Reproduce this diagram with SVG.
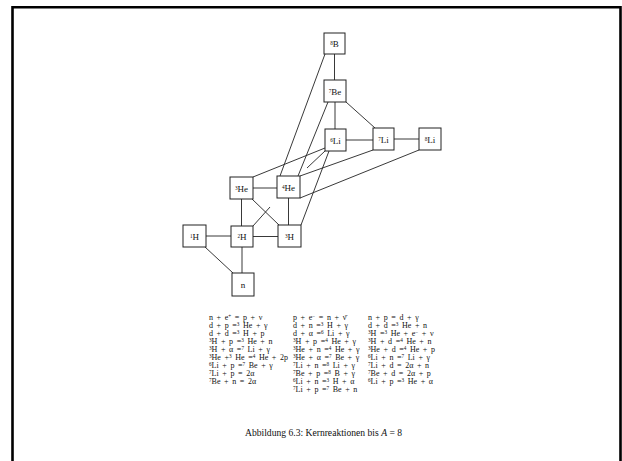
<svg xmlns="http://www.w3.org/2000/svg" width="622" height="461" viewBox="0 0 622 461">
<style>
.frame{fill:none;stroke:#000;stroke-width:2.6}
.box{fill:#fff;stroke:#222;stroke-width:1}
.ln{stroke:#222;stroke-width:0.9;fill:none}
.lbl{font-family:"Liberation Serif","DejaVu Serif",serif;font-size:9px;fill:#111;text-anchor:middle}
.eq{font-family:"Liberation Serif","DejaVu Serif",serif;font-size:8px;fill:#111;word-spacing:1.6px}
.s{font-size:5.2px;baseline-shift:2.5px;fill:#111}
.cap{font-family:"Liberation Serif","DejaVu Serif",serif;font-size:9.6px;fill:#111}
</style>
<rect width="622" height="461" fill="#fff"/>
<path class="frame" d="M12.5,461 V7.3 H620.5 V461"/>
<g id="connectors">
<line class="ln" x1="206" y1="236" x2="231" y2="236"/>
<line class="ln" x1="205" y1="247" x2="233" y2="273"/>
<line class="ln" x1="242" y1="247" x2="242" y2="273"/>
<line class="ln" x1="253" y1="236.5" x2="278" y2="236.5"/>
<line class="ln" x1="241.5" y1="199" x2="241.5" y2="226"/>
<line class="ln" x1="253" y1="188" x2="277" y2="188"/>
<line class="ln" x1="252" y1="199" x2="279" y2="225"/>
<line class="ln" x1="253" y1="226" x2="270" y2="207"/>
<line class="ln" x1="288.5" y1="198" x2="288.5" y2="225"/>
<line class="ln" x1="301" y1="225" x2="329" y2="151"/>
<line class="ln" x1="280" y1="176" x2="325" y2="54"/>
<line class="ln" x1="298" y1="176" x2="328" y2="102"/>
<line class="ln" x1="253" y1="177" x2="325" y2="148"/>
<line class="ln" x1="307" y1="168" x2="325" y2="151"/>
<line class="ln" x1="300" y1="176" x2="373" y2="150"/>
<line class="ln" x1="300" y1="198" x2="419" y2="150"/>
<line class="ln" x1="334.5" y1="54" x2="334.5" y2="80"/>
<line class="ln" x1="335" y1="102" x2="335" y2="129"/>
<line class="ln" x1="346" y1="102" x2="375" y2="128"/>
<line class="ln" x1="346" y1="140" x2="373" y2="140"/>
<line class="ln" x1="394" y1="139" x2="419" y2="139"/>
</g>
<g id="n8B"><rect class="box" x="324" y="33" width="21" height="21"/><text class="lbl" x="334.5" y="47"><tspan class="s">8</tspan>B</text></g>
<g id="n7Be"><rect class="box" x="324" y="80" width="22" height="22"/><text class="lbl" x="335" y="94.5"><tspan class="s">7</tspan>Be</text></g>
<g id="n6Li"><rect class="box" x="325" y="129" width="21" height="22"/><text class="lbl" x="335.5" y="143.5"><tspan class="s">6</tspan>Li</text></g>
<g id="n7Li"><rect class="box" x="373" y="128" width="21" height="22"/><text class="lbl" x="383.5" y="142.5"><tspan class="s">7</tspan>Li</text></g>
<g id="n8Li"><rect class="box" x="419" y="128" width="22" height="22"/><text class="lbl" x="430" y="142.5"><tspan class="s">8</tspan>Li</text></g>
<g id="n3He"><rect class="box" x="230" y="177" width="23" height="22"/><text class="lbl" x="241.5" y="191.5"><tspan class="s">3</tspan>He</text></g>
<g id="n4He"><rect class="box" x="277" y="176" width="23" height="22"/><text class="lbl" x="288.5" y="190.5"><tspan class="s">4</tspan>He</text></g>
<g id="n1H"><rect class="box" x="183" y="225" width="23" height="22"/><text class="lbl" x="194.5" y="239.5"><tspan class="s">1</tspan>H</text></g>
<g id="n2H"><rect class="box" x="231" y="226" width="22" height="21"/><text class="lbl" x="242" y="240"><tspan class="s">2</tspan>H</text></g>
<g id="n3H"><rect class="box" x="278" y="225" width="23" height="22"/><text class="lbl" x="289.5" y="239.5"><tspan class="s">3</tspan>H</text></g>
<g id="nn"><rect class="box" x="232" y="273" width="22" height="23"/><text class="lbl" x="243" y="288">n</text></g>
<g id="equations">
<text class="eq" x="209" y="320">n + e<tspan class="s">+</tspan> = p + ν</text>
<text class="eq" x="209" y="328">d + p =<tspan class="s">3</tspan> He + γ</text>
<text class="eq" x="209" y="336">d + d =<tspan class="s">3</tspan> H + p</text>
<text class="eq" x="209" y="344"><tspan class="s">3</tspan>H + p =<tspan class="s">3</tspan> He + n</text>
<text class="eq" x="209" y="352"><tspan class="s">3</tspan>H + α =<tspan class="s">7</tspan> Li + γ</text>
<text class="eq" x="209" y="360"><tspan class="s">3</tspan>He +<tspan class="s">3</tspan> He =<tspan class="s">4</tspan> He + 2p</text>
<text class="eq" x="209" y="368"><tspan class="s">6</tspan>Li + p =<tspan class="s">7</tspan> Be + γ</text>
<text class="eq" x="209" y="376"><tspan class="s">7</tspan>Li + p = 2α</text>
<text class="eq" x="209" y="384"><tspan class="s">7</tspan>Be + n = 2α</text>
<text class="eq" x="293" y="320">p + e<tspan class="s">−</tspan> = n + ν̄</text>
<text class="eq" x="293" y="328">d + n =<tspan class="s">3</tspan> H + γ</text>
<text class="eq" x="293" y="336">d + α =<tspan class="s">6</tspan> Li + γ</text>
<text class="eq" x="293" y="344"><tspan class="s">3</tspan>H + p =<tspan class="s">4</tspan> He + γ</text>
<text class="eq" x="293" y="352"><tspan class="s">3</tspan>He + n =<tspan class="s">4</tspan> He + γ</text>
<text class="eq" x="293" y="360"><tspan class="s">3</tspan>He + α =<tspan class="s">7</tspan> Be + γ</text>
<text class="eq" x="293" y="368"><tspan class="s">7</tspan>Li + n =<tspan class="s">8</tspan> Li + γ</text>
<text class="eq" x="293" y="376"><tspan class="s">7</tspan>Be + p =<tspan class="s">8</tspan> B + γ</text>
<text class="eq" x="293" y="384"><tspan class="s">6</tspan>Li + n =<tspan class="s">3</tspan> H + α</text>
<text class="eq" x="293" y="392"><tspan class="s">7</tspan>Li + p =<tspan class="s">7</tspan> Be + n</text>
<text class="eq" x="368" y="320">n + p = d + γ</text>
<text class="eq" x="368" y="328">d + d =<tspan class="s">3</tspan> He + n</text>
<text class="eq" x="368" y="336"><tspan class="s">3</tspan>H =<tspan class="s">3</tspan> He + e<tspan class="s">−</tspan> + ν</text>
<text class="eq" x="368" y="344"><tspan class="s">3</tspan>H + d =<tspan class="s">4</tspan> He + n</text>
<text class="eq" x="368" y="352"><tspan class="s">3</tspan>He + d =<tspan class="s">4</tspan> He + p</text>
<text class="eq" x="368" y="360"><tspan class="s">6</tspan>Li + n =<tspan class="s">7</tspan> Li + γ</text>
<text class="eq" x="368" y="368"><tspan class="s">7</tspan>Li + d = 2α + n</text>
<text class="eq" x="368" y="376"><tspan class="s">7</tspan>Be + d = 2α + p</text>
<text class="eq" x="368" y="384"><tspan class="s">6</tspan>Li + p =<tspan class="s">3</tspan> He + α</text>
</g>
<text class="cap" x="245" y="436">Abbildung 6.3: Kernreaktionen bis <tspan font-style="italic">A</tspan> = 8</text>
</svg>
